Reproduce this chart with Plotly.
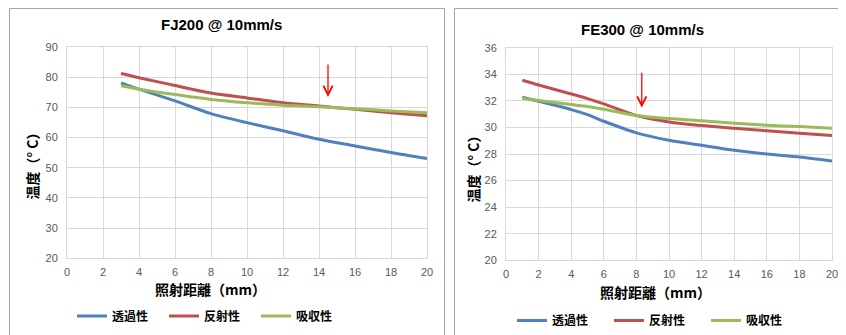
import plotly.graph_objects as go

# page body has an 8px margin; figure is sized/positioned to compensate
OFF = 8
W, H = 846 - OFF, 335 - OFF

# ---- data: FJ200 @ 10mm/s ----
fj_x = [3, 4, 6, 8, 10, 12, 14, 16, 18, 20]
fj_trans = [78.1, 76.0, 72.1, 67.9, 64.9, 62.2, 59.4, 57.2, 55.0, 53.0]
fj_refl = [81.2, 79.8, 77.2, 74.7, 73.1, 71.5, 70.4, 69.3, 68.2, 67.2]
fj_abs = [77.1, 76.0, 74.2, 72.6, 71.5, 70.7, 70.2, 69.5, 68.8, 68.2]

# ---- data: FE300 @ 10mm/s ----
fe_x = [1, 2, 4, 5, 6, 8, 10, 12, 14, 16, 18, 20]
fe_trans = [32.28, 31.98, 31.35, 30.97, 30.47, 29.6, 29.04, 28.66, 28.29, 28.0, 27.78, 27.48]
fe_refl = [33.56, 33.2, 32.53, 32.18, 31.78, 30.9, 30.42, 30.15, 29.95, 29.75, 29.57, 29.4]
fe_abs = [32.18, 32.03, 31.73, 31.58, 31.38, 30.9, 30.67, 30.5, 30.32, 30.17, 30.07, 29.95]

series_names = ["透過性", "反射性", "吸収性"]
colors = ["#4F81BD", "#C0504D", "#9BBB59"]
x_ticks = list(range(0, 21, 2))

titles = ["FJ200 @ 10mm/s", "FE300 @ 10mm/s"]
x_title = "照射距離（mm）"
y_title = "温度（° C）"

CJK = "Noto Sans CJK JP"
LAT = "Liberation Sans"

fig = go.Figure()

for i, (name, ys) in enumerate(zip(series_names, [fj_trans, fj_refl, fj_abs])):
    fig.add_trace(go.Scatter(x=fj_x, y=ys, mode="lines", name=name,
                             line=dict(color=colors[i], width=3, shape="spline", smoothing=0.8),
                             xaxis="x", yaxis="y", legend="legend"))
for i, (name, ys) in enumerate(zip(series_names, [fe_trans, fe_refl, fe_abs])):
    fig.add_trace(go.Scatter(x=fe_x, y=ys, mode="lines", name=name,
                             line=dict(color=colors[i], width=3, shape="spline", smoothing=0.8),
                             xaxis="x2", yaxis="y2", legend="legend2"))

def px_x(p):
    return (p - OFF) / W

def px_y(p):
    return 1 - (p - OFF) / H

axis_common = dict(showgrid=True, gridcolor="#D9D9D9", gridwidth=1, zeroline=False,
                   showline=True, linecolor="#D9D9D9", mirror=True, ticks="",
                   automargin=False,
                   tickfont=dict(family=LAT, size=11, color="#595959"))

title_font = dict(family=CJK, size=14, color="black", weight="bold")
leg_font = dict(family=CJK, size=12, color="black", weight="bold")

fig.update_layout(
    template="none",
    width=W, height=H,
    margin=dict(l=0, r=0, t=0, b=0),
    paper_bgcolor="white", plot_bgcolor="white",
    xaxis=dict(domain=[px_x(67), px_x(427)], range=[0, 20], tickvals=x_ticks, anchor="y",
               ticklabelstandoff=4, **axis_common),
    yaxis=dict(domain=[px_y(259), px_y(47)], range=[20, 90], dtick=10, anchor="x",
               ticklabelstandoff=6, **axis_common),
    xaxis2=dict(domain=[px_x(506), px_x(832)], range=[0, 20], tickvals=x_ticks, anchor="y2",
                ticklabelstandoff=4, **axis_common),
    yaxis2=dict(domain=[px_y(261), px_y(48)], range=[20, 36], dtick=2, anchor="x2",
                ticklabelstandoff=6, **axis_common),
    legend=dict(orientation="h", x=px_x(72), y=px_y(316), xanchor="left", yanchor="middle",
                font=leg_font, entrywidth=47,
                entrywidthmode="pixels", bgcolor="rgba(0,0,0,0)"),
    legend2=dict(orientation="h", x=px_x(512), y=px_y(321), xanchor="left", yanchor="middle",
                 font=leg_font, entrywidth=52,
                 entrywidthmode="pixels", bgcolor="rgba(0,0,0,0)"),
    showlegend=True,
)

# chart frames
fig.add_shape(type="rect", xref="paper", yref="paper", x0=px_x(9.5), x1=px_x(444.5),
              y0=px_y(345), y1=px_y(8.5), line=dict(color="#A6A6A6", width=1), layer="below")
fig.add_shape(type="rect", xref="paper", yref="paper", x0=px_x(454.5), x1=px_x(860),
              y0=px_y(345), y1=px_y(8.5), line=dict(color="#A6A6A6", width=1), layer="below")

# chart titles
fig.add_annotation(text="<b>" + titles[0] + "</b>", xref="paper", yref="paper",
                   x=px_x(222), y=px_y(25), xanchor="center", yanchor="middle", showarrow=False,
                   font=dict(family=LAT, size=15, color="black"))
fig.add_annotation(text="<b>" + titles[1] + "</b>", xref="paper", yref="paper",
                   x=px_x(642), y=px_y(30), xanchor="center", yanchor="middle", showarrow=False,
                   font=dict(family=LAT, size=15, color="black"))

# axis titles
for (xc, yc) in [(210, 290), (655, 293)]:
    fig.add_annotation(text=x_title, xref="paper", yref="paper", x=px_x(xc), y=px_y(yc),
                       xanchor="center", yanchor="middle", showarrow=False, font=title_font)
for (xc, yc) in [(32, 163), (473, 166)]:
    fig.add_annotation(text=y_title, xref="paper", yref="paper", x=px_x(xc), y=px_y(yc),
                       xanchor="center", yanchor="middle", showarrow=False, textangle=-90,
                       font=title_font)

# arrows
fig.add_annotation(x=14.5, y=73.4, ax=14.5, ay=84.7, xref="x", yref="y", axref="x", ayref="y",
                   text="", showarrow=True, arrowhead=5, arrowsize=1.4, arrowwidth=1.3,
                   arrowcolor="#FF0000")
fig.add_annotation(x=8.33, y=31.5, ax=8.33, ay=34.24, xref="x2", yref="y2", axref="x2", ayref="y2",
                   text="", showarrow=True, arrowhead=5, arrowsize=1.4, arrowwidth=1.3,
                   arrowcolor="#FF0000")

fig.write_html("out.html")
